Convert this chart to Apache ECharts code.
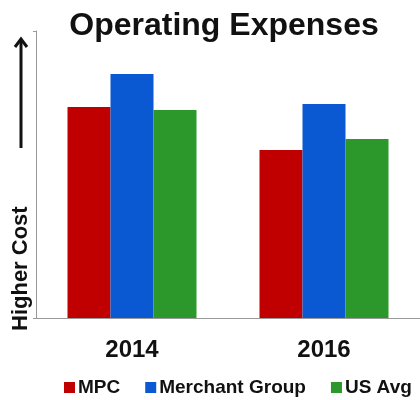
<!DOCTYPE html>
<html>
<head>
<meta charset="utf-8">
<script src="https://cdn.jsdelivr.net/npm/echarts@6/dist/echarts.min.js"></script>
<style>
  html, body { margin: 0; padding: 0; background: #fff; }
  #chart { width: 420px; height: 400px; }
</style>
</head>
<body>
<div id="chart"></div>
<script>
// Relative operating expense index (no scale shown on the axis)
const years = ['2014', '2016'];
const mpc = [73.5, 58.5];
const merchantGroup = [85, 74.6];
const usAvg = [72.5, 62.4];

const FONT = '"Liberation Sans", Arial, sans-serif';
const chart = echarts.init(document.getElementById('chart'));

chart.setOption({
  animation: false,
  backgroundColor: '#fff',
  title: {
    text: 'Operating Expenses',
    left: 224,
    textAlign: 'center',
    top: 10,
    padding: 0,
    textStyle: { fontFamily: FONT, fontWeight: 'bold', fontSize: 32, color: '#111' }
  },
  legend: {
    left: 64,
    top: 378,
    padding: 0,
    itemWidth: 11,
    itemHeight: 11,
    itemGap: 25,
    icon: 'rect',
    textStyle: { fontFamily: FONT, fontWeight: 'bold', fontSize: 19, color: '#111', padding: [0, 0, 0, -2] }
  },
  grid: { left: 36, width: 388, top: 31, height: 287 },
  xAxis: {
    type: 'category',
    data: years,
    axisLine: { lineStyle: { color: '#999', width: 1 } },
    axisTick: { length: 5, lineStyle: { color: '#999' } },
    axisLabel: { fontFamily: FONT, fontWeight: 'bold', fontSize: 24, color: '#111', margin: 20 }
  },
  yAxis: {
    type: 'value',
    min: 0,
    max: 100,
    interval: 100,
    axisLine: { show: true, lineStyle: { color: '#999', width: 1 } },
    axisTick: { show: true, length: 3, lineStyle: { color: '#999' } },
    axisLabel: { show: false },
    splitLine: { show: false }
  },
  series: [
    { name: 'MPC', type: 'bar', data: mpc, barWidth: 43, barGap: '0%', itemStyle: { color: '#C00000' } },
    { name: 'Merchant Group', type: 'bar', data: merchantGroup, barWidth: 43, barGap: '0%', itemStyle: { color: '#0A58D2' } },
    { name: 'US Avg', type: 'bar', data: usAvg, barWidth: 43, barGap: '0%', itemStyle: { color: '#2C982C' } }
  ],
  graphic: [
    {
      type: 'text',
      x: 21,
      y: 331,
      rotation: Math.PI / 2,
      style: {
        text: 'Higher Cost',
        fontFamily: FONT,
        fontWeight: 'bold',
        fontSize: 22,
        fill: '#111',
        align: 'left',
        verticalAlign: 'middle'
      }
    },
    {
      type: 'line',
      shape: { x1: 21, y1: 40, x2: 21, y2: 148 },
      style: { stroke: '#111', lineWidth: 3 }
    },
    {
      type: 'polyline',
      shape: { points: [[15, 47], [21, 39], [27, 47]] },
      style: { stroke: '#111', lineWidth: 3, fill: null }
    }
  ]
});
</script>
</body>
</html>
